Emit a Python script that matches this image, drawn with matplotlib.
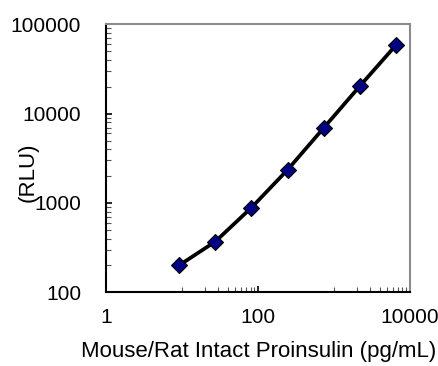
import numpy as np
import matplotlib
matplotlib.use("Agg")
from matplotlib import pyplot as plt
from matplotlib import ticker

plt.rcParams['font.family'] = ['Liberation Sans', 'DejaVu Sans']

# standard curve (3-fold dilutions)
conc = [9.14, 27.4, 82.3, 247, 741, 2222, 6667]
rlu = [200, 369, 888, 2364, 6983, 20600, 59400]

x_major = [1, 100, 10000]
x_minor = [10, 20, 30, 40, 50, 60, 70, 80, 90,
           1000, 2000, 3000, 4000, 5000, 6000, 7000, 8000, 9000]
y_major = [100, 1000, 10000, 100000]

fig = plt.figure(figsize=(4.39, 3.66), dpi=100)
ax = fig.add_axes([0.2415, 0.2014, 0.692, 0.732])

ax.plot(conc, rlu, color='black', lw=2.7, marker='D', ms=8,
        mfc='#000080', mec='black', mew=0.8, zorder=3)

ax.set_xscale('log')
ax.set_yscale('log')
ax.set_xlim(1, 10000)
ax.set_ylim(100, 100000)

ax.xaxis.set_major_locator(ticker.FixedLocator(x_major))
ax.xaxis.set_minor_locator(ticker.FixedLocator(x_minor))
ax.yaxis.set_major_locator(ticker.FixedLocator(y_major))
ax.yaxis.set_minor_locator(ticker.LogLocator(base=10, subs=np.arange(2, 10)))
ax.xaxis.set_major_formatter(ticker.FixedFormatter([str(v) for v in x_major]))
ax.yaxis.set_major_formatter(ticker.FixedFormatter([str(v) for v in y_major]))
ax.xaxis.set_minor_formatter(ticker.NullFormatter())
ax.yaxis.set_minor_formatter(ticker.NullFormatter())

ax.tick_params(which='major', direction='in', length=4.5, width=1.2,
               labelsize=15, colors='black')
ax.tick_params(which='minor', direction='in', length=3.5, width=0.8,
               color='#555555')
ax.tick_params(axis='x', which='major', pad=11)
ax.tick_params(axis='y', which='major', pad=18)

ax.spines['left'].set_linewidth(1.5)
ax.spines['bottom'].set_linewidth(1.5)
for s in ['top', 'right']:
    ax.spines[s].set_color('#8c8c8c')
    ax.spines[s].set_linewidth(1.5)

fig.text(259 / 439, 1 - 352 / 366, 'Mouse/Rat Intact Proinsulin (pg/mL)',
         ha='center', va='center', fontsize=16)
fig.text(28 / 439, 1 - 172 / 366, '(RLU)', rotation=90,
         ha='center', va='center', fontsize=16)

fig.savefig('out.png', dpi=100)
